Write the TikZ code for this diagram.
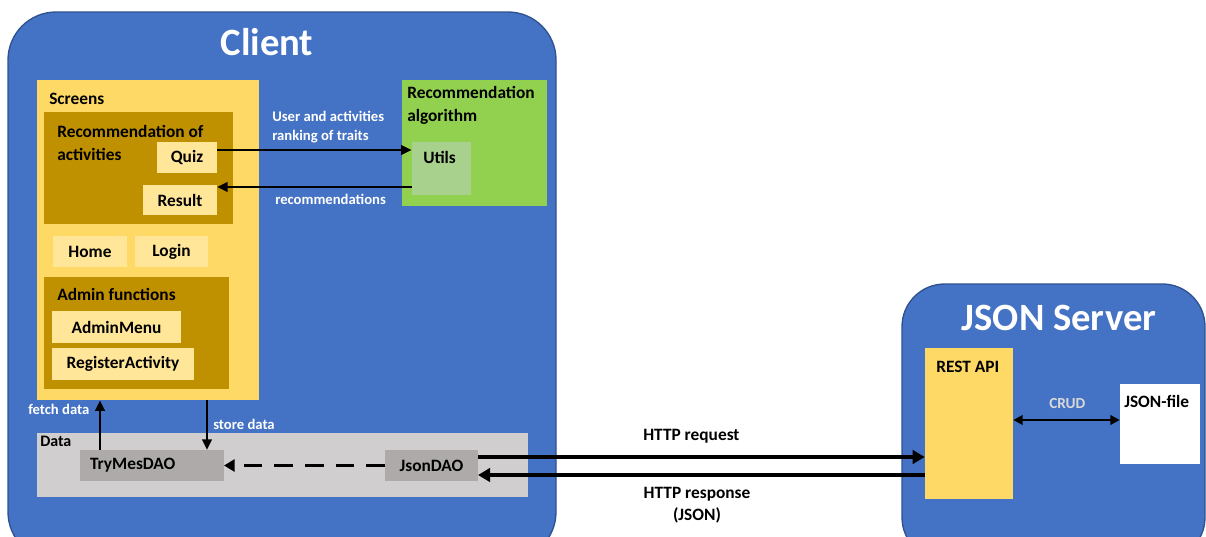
\documentclass[tikz,border=0pt]{standalone}
\usepackage{fontspec}
\setmainfont{Carlito}
\usetikzlibrary{arrows.meta,fit}

\definecolor{cblue}{HTML}{4472C4}
\definecolor{cblueline}{HTML}{2F528F}
\definecolor{cyellow}{HTML}{FFD966}
\definecolor{cgold}{HTML}{BF9000}
\definecolor{clight}{HTML}{FFE699}
\definecolor{cgreen}{HTML}{92D050}
\definecolor{cutils}{HTML}{A9D18E}
\definecolor{cdata}{HTML}{D0CECE}
\definecolor{cdao}{HTML}{AEAAAA}
\definecolor{ccrud}{HTML}{D9D9D9}

\tikzset{
  x=0.75pt, y=-0.75pt,
  region/.style={fill=cblue, draw=cblueline, line width=1pt, rounded corners=36pt, inner sep=0pt},
  area/.style={inner sep=0pt, draw=none},
  boxtext/.style={font=\fontsize{13}{15}\selectfont\bfseries, inner sep=0pt, outer sep=0pt},
  item/.style={boxtext, fill=clight},
  dao/.style={boxtext, fill=cdao},
  title/.style={text=white, font=\fontsize{29}{33}\selectfont\bfseries, inner sep=0pt},
  lbl/.style={font=\fontsize{13}{15}\selectfont\bfseries, inner sep=0pt, anchor=base west},
  wlbl/.style={font=\fontsize{11}{13}\selectfont\bfseries, inner sep=0pt, text=white, anchor=base west},
  arr/.style={line width=2.2pt, -{Triangle[length=8pt,width=7pt]}},
  thickarr/.style={line width=3.2pt, -{Triangle[length=9pt,width=10pt]}},
}

\begin{document}
\begin{tikzpicture}
\useasboundingbox (0,0) rectangle (1206,536);

% ---- Client ----
\node[region, fit={(8,12)(556,560)}] (client) {};
\node[title, anchor=base] (clienttitle) at (267,55) {Client};

% Screens
\node[area, fill=cyellow, fit={(37,80)(259,400)}] (screens) {};
\node[lbl] (screenslbl) at (49,104) {Screens};

\node[area, fill=cgold, fit={(44,112)(233,224)}] (recact) {};
\node[lbl] (recactlbl) at (57,137) {Recommendation of};
\node[lbl] (recactlbl2) at (57,160) {activities};
\node[item, minimum width=45pt, minimum height=23.25pt] (quiz) at (187,157.5) {Quiz};
\node[item, minimum width=55.5pt, minimum height=22.5pt] (result) at (180,200) {Result};

\node[item, minimum width=55.5pt, minimum height=23.25pt] (home) at (90,251.5) {Home};
\node[item, minimum width=54.75pt, minimum height=23.25pt] (login) at (171.5,251.5) {Login};

\node[area, fill=cgold, fit={(44,277)(229,389)}] (admin) {};
\node[lbl] (adminlbl) at (57,300) {Admin functions};
\node[item, minimum width=96.75pt, minimum height=24pt] (adminmenu) at (116.5,327) {AdminMenu};
\node[item, minimum width=106.5pt, minimum height=24pt] (register) at (123,364) {RegisterActivity};

% Recommendation algorithm
\node[area, fill=cgreen, fit={(402,80)(547,206)}] (algo) {};
\node[lbl] (algolbl) at (407,98) {Recommendation};
\node[lbl] (algolbl2) at (407,121) {algorithm};
\node[area, fill=cutils, fit={(412,142)(471,195)}] (utils) {};
\node[lbl] (utilslbl) at (423,163) {Utils};

\draw[arr] (quiz.east |- 0,150) -- (utils.west |- 0,150);
\draw[arr] (utils.west |- 0,187) -- (result.east |- 0,187);
\node[wlbl] (sendlbl) at (272,121) {User and activities};
\node[wlbl] (sendlbl2) at (272,140) {ranking of traits};
\node[wlbl] (reclbl) at (275,204) {recommendations};

% Data
\node[area, fill=cdata, fit={(37,433)(528,497)}] (data) {};
\node[lbl, font=\fontsize{12}{14}\selectfont\bfseries] (datalbl) at (40,446) {Data};
\node[dao, minimum width=108pt, minimum height=23.25pt, text width=93pt, inner xsep=7.5pt, align=left] (trymes) at (152,465.5) {TryMesDAO};
\node[dao, minimum width=69.75pt, minimum height=23.25pt] (jsondao) at (431.5,465.5) {JsonDAO};

\draw[line width=2.6pt, dash pattern=on 14pt off 9pt, -{Triangle[length=8pt,width=9pt]}]
  (jsondao.west) -- (trymes.east);

\draw[arr] (trymes.north -| 100,0) -- (screens.south -| 100,0);
\draw[arr] (screens.south -| 207,0) -- (trymes.north -| 207,0);
\node[wlbl] (fetchlbl) at (28,414) {fetch data};
\node[wlbl] (storelbl) at (213,429) {store data};

% ---- JSON Server ----
\node[region, rounded corners=32pt, fit={(902,284)(1205,560)}] (server) {};
\node[title, anchor=base] (servertitle) at (1059,330) {JSON Server};
\node[area, fill=cyellow, fit={(925,348)(1013,499)}] (rest) {};
\node[lbl] (restlbl) at (936,372) {REST API};
\node[area, fill=white, fit={(1120,384)(1200,464)}] (jsonfile) {};
\node[lbl] (jsonfilelbl) at (1124,407) {JSON-file};

\draw[line width=1.8pt, {Triangle[length=7pt,width=7pt]}-{Triangle[length=7pt,width=7pt]}]
  (rest.east |- 0,420) -- (jsonfile.west |- 0,420);
\node[wlbl, text=ccrud, font=\fontsize{11.5}{13}\selectfont\bfseries] (crudlbl) at (1049,408) {CRUD};

% ---- HTTP traffic ----
\draw[thickarr] (jsondao.east |- 0,457) -- (rest.west |- 0,457);
\draw[thickarr] (rest.west |- 0,475) -- (jsondao.east |- 0,475);
\node[lbl] (reqlbl) at (643,440) {HTTP request};
\node[lbl, anchor=base] (resplbl) at (697,498) {HTTP response};
\node[lbl, anchor=base] (resplbl2) at (697,520) {(JSON)};
\end{tikzpicture}
\end{document}
